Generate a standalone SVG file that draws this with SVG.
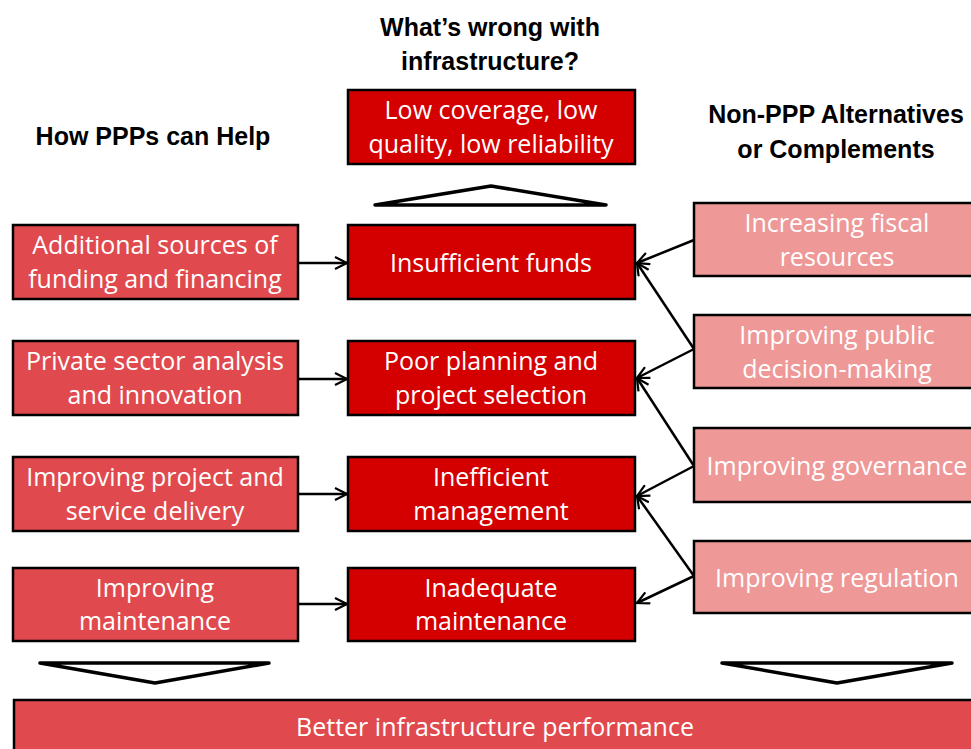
<svg xmlns="http://www.w3.org/2000/svg" width="971" height="749" viewBox="0 0 971 749">
<defs>
<marker id="arr" viewBox="0 0 14 14" refX="13" refY="7" markerWidth="14" markerHeight="14" markerUnits="userSpaceOnUse" orient="auto">
<path d="M1,1 L13,7 L1,13" fill="none" stroke="#000" stroke-width="2.2"/>
</marker>
<style>
.hdr{font-family:"Liberation Sans",Arial,sans-serif;font-weight:bold;font-size:25px;fill:#000;text-anchor:middle}
.t{font-family:"Open Sans","Liberation Sans",sans-serif;font-size:25px;fill:#fff;text-anchor:middle;dominant-baseline:central}
.mid{fill:#d40000;stroke:#000;stroke-width:2.5}
.left{fill:#e04a4e;stroke:#000;stroke-width:2.5}
.right{fill:#ee9898;stroke:#000;stroke-width:2.5}
.c{stroke:#000;stroke-width:2.5;fill:none;marker-end:url(#arr)}
.tri{fill:#fff;stroke:#000;stroke-width:3.5;stroke-linejoin:round}
</style>
</defs>
<rect width="971" height="749" fill="#fff"/>
<g id="headers">
<text class="hdr" x="490" y="36">What’s wrong with</text>
<text class="hdr" x="490" y="70">infrastructure?</text>
<text class="hdr" x="153" y="145">How PPPs can Help</text>
<text class="hdr" x="836" y="123">Non-PPP Alternatives</text>
<text class="hdr" x="836" y="158">or Complements</text>
</g>
<g id="top">
<rect class="mid" x="348" y="90" width="287" height="74"/>
<text class="t" x="491" y="109">Low coverage, low</text>
<text class="t" x="491" y="143">quality, low reliability</text>
</g>
<g id="triangles">
<polygon class="tri" points="375,205 491,186 606,205"/>
<polygon class="tri" points="40,663 269,663 155,683"/>
<polygon class="tri" points="722,663 952,663 837,683"/>
</g>
<g id="l1"><rect class="left" x="13" y="225" width="285" height="74"/>
<text class="t" x="155" y="244">Additional sources of</text><text class="t" x="155" y="278">funding and financing</text></g>
<g id="l2"><rect class="left" x="13" y="341" width="285" height="74"/>
<text class="t" x="155" y="360">Private sector analysis</text><text class="t" x="155" y="394">and innovation</text></g>
<g id="l3"><rect class="left" x="13" y="457" width="285" height="74"/>
<text class="t" x="155" y="476">Improving project and</text><text class="t" x="155" y="510">service delivery</text></g>
<g id="l4"><rect class="left" x="13" y="568" width="285" height="73"/>
<text class="t" x="155" y="587">Improving</text><text class="t" x="155" y="620">maintenance</text></g>
<g id="m1"><rect class="mid" x="348" y="225" width="287" height="74"/>
<text class="t" x="491" y="262">Insufficient funds</text></g>
<g id="m2"><rect class="mid" x="348" y="341" width="287" height="74"/>
<text class="t" x="491" y="360">Poor planning and</text><text class="t" x="491" y="394">project selection</text></g>
<g id="m3"><rect class="mid" x="348" y="457" width="287" height="74"/>
<text class="t" x="491" y="476">Inefficient</text><text class="t" x="491" y="510">management</text></g>
<g id="m4"><rect class="mid" x="348" y="568" width="287" height="73"/>
<text class="t" x="491" y="587">Inadequate</text><text class="t" x="491" y="620">maintenance</text></g>
<g id="r1"><rect class="right" x="694" y="203" width="290" height="73"/>
<text class="t" x="837" y="222">Increasing fiscal</text><text class="t" x="837" y="256">resources</text></g>
<g id="r2"><rect class="right" x="694" y="315" width="290" height="73"/>
<text class="t" x="837" y="334">Improving public</text><text class="t" x="837" y="368">decision-making</text></g>
<g id="r3"><rect class="right" x="694" y="428" width="290" height="74"/>
<text class="t" x="837" y="465">Improving governance</text></g>
<g id="r4"><rect class="right" x="694" y="541" width="290" height="72"/>
<text class="t" x="837" y="577">Improving regulation</text></g>
<g id="bottom"><rect class="left" x="14" y="700" width="970" height="60"/>
<text class="t" x="495" y="726">Better infrastructure performance</text></g>
<g id="connectors">
<line class="c" x1="298" y1="263" x2="347" y2="263"/>
<line class="c" x1="298" y1="379" x2="347" y2="379"/>
<line class="c" x1="298" y1="494" x2="347" y2="494"/>
<line class="c" x1="298" y1="604" x2="347" y2="604"/>
<line class="c" x1="694" y1="240" x2="637" y2="263"/>
<line class="c" x1="694" y1="349" x2="637" y2="263"/>
<line class="c" x1="694" y1="349" x2="637" y2="378"/>
<line class="c" x1="694" y1="466" x2="637" y2="378"/>
<line class="c" x1="694" y1="466" x2="637" y2="496"/>
<line class="c" x1="694" y1="576" x2="637" y2="496"/>
<line class="c" x1="694" y1="576" x2="637" y2="603"/>
</g>
</svg>
